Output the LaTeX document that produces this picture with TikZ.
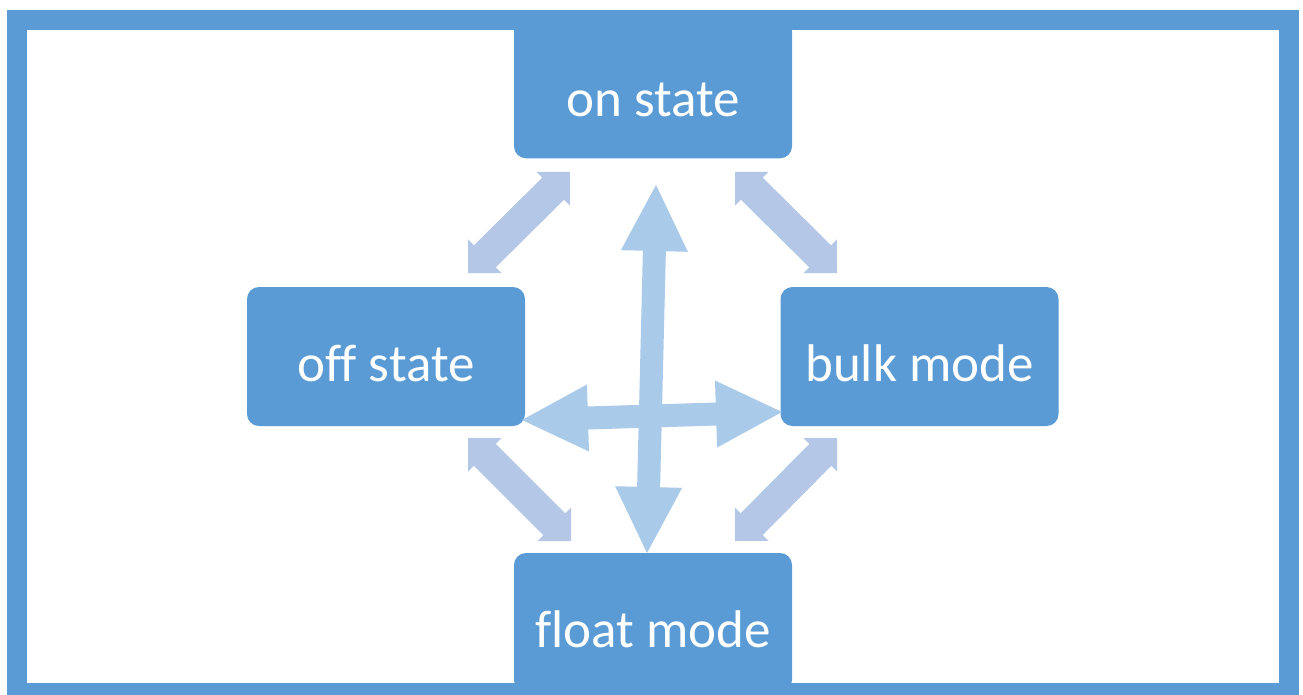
\documentclass[tikz,border=0pt]{standalone}
\usepackage{fontspec}
\setmainfont{Carlito}[Ligatures=NoCommon]
\usetikzlibrary{calc}
\definecolor{frameblue}{HTML}{5B9BD5}
\definecolor{diagblue}{HTML}{B4C7E7}
\definecolor{crossblue}{HTML}{A9CAE9}
% #1 fill style, #2 tip A, #3 tip B, #4 head length, #5 head half-width, #6 shaft half-width
\newcommand\dblarrow[6]{%
  \fill[#1] (#2)
    -- ($(#2)!#4!(#3)!#5!90:(#3)$)
    -- ($(#2)!#4!(#3)!#6!90:(#3)$)
    -- ($(#3)!#4!(#2)!#6!-90:(#2)$)
    -- ($(#3)!#4!(#2)!#5!-90:(#2)$)
    -- (#3)
    -- ($(#3)!#4!(#2)!#5!90:(#2)$)
    -- ($(#3)!#4!(#2)!#6!90:(#2)$)
    -- ($(#2)!#4!(#3)!#6!-90:(#3)$)
    -- ($(#2)!#4!(#3)!#5!-90:(#3)$)
    -- cycle;}
\begin{document}
\begin{tikzpicture}[x=1pt,y=-1pt,
  box/.style={fill=frameblue, rounded corners=12pt, minimum width=278pt,
    minimum height=139pt, inner sep=0pt, text=white,
    font=\fontsize{53}{62}\selectfont, text height=49pt, text depth=0pt},
  diag/.style={fill=diagblue},
  cross/.style={fill=crossblue}]
\clip (0,0) rectangle (1303,694);
\fill[white] (0,0) rectangle (1303,694);
\draw[frameblue, line width=20pt] (17,20) rectangle (1289,693);
% boxes
\node[box, text height=56pt] (on) at (653,88.8) {on state};
\node[box] (off) at (386,356.5) {off state};
\node[box] (bulk) at (919.5,356.5) {bulk mode};
\node[box] (float) at (653,622.5) {float mode};
% arrow tips
\coordinate (tlA) at (468,273); \coordinate (tlB) at (570,172);
\coordinate (trA) at (735,172); \coordinate (trB) at (837,273);
\coordinate (blA) at (468,438); \coordinate (blB) at (571,541);
\coordinate (brA) at (837,438); \coordinate (brB) at (735,541);
\coordinate (vA) at (656,185); \coordinate (vB) at (647,553);
\coordinate (hA) at (522,420); \coordinate (hB) at (782,412);
% diagonal double arrows
\dblarrow{diag}{tlA}{tlB}{23.7pt}{23.7pt}{15.5pt}
\dblarrow{diag}{trA}{trB}{23.7pt}{23.7pt}{15.5pt}
\dblarrow{diag}{blA}{blB}{23.7pt}{23.7pt}{15.5pt}
\dblarrow{diag}{brA}{brB}{23.7pt}{23.7pt}{15.5pt}
% central cross arrows
\dblarrow{cross}{vA}{vB}{66pt}{33.5pt}{11.5pt}
\dblarrow{cross}{hA}{hB}{66pt}{33.5pt}{11.5pt}
\end{tikzpicture}
\end{document}
